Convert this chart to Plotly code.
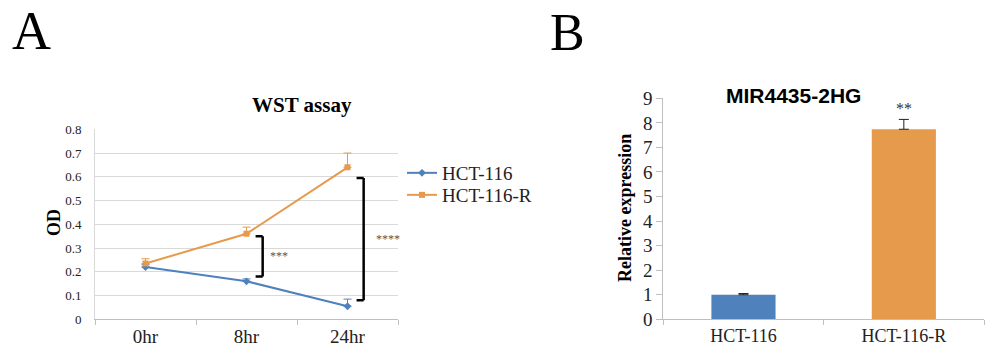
import plotly.graph_objects as go

# ---- Panel A data ----
time_points = ["0hr", "8hr", "24hr"]
hct116_od = [0.22, 0.16, 0.055]
hct116_err = [0.01, 0.01, 0.03]
hct116r_od = [0.235, 0.36, 0.64]
hct116r_err = [0.02, 0.028, 0.06]
sig_index = [1, 2]
sig_lo = [0.18, 0.08]
sig_hi = [0.35, 0.595]
sig_text = ["***", "****"]

# ---- Panel B data ----
cell_lines = ["HCT-116", "HCT-116-R"]
rel_expr = [1.0, 7.74]
rel_err = [0.05, 0.4]
rel_sig = ["", "**"]

BLUE = "#4f81bd"
ORANGE = "#e59a4c"
SERIF = "Liberation Serif, Times New Roman, serif"
SANS = "Liberation Sans, Arial, sans-serif"

fig = go.Figure()

fig.add_trace(go.Scatter(
    x=time_points, y=hct116_od, name="HCT-116", mode="lines+markers",
    line=dict(color=BLUE, width=2), marker=dict(symbol="diamond", size=6, color=BLUE),
    error_y=dict(type="data", array=hct116_err, arrayminus=[0]*3, symmetric=False,
                 color=BLUE, thickness=1, width=4),
    xaxis="x", yaxis="y", legend="legend"))
fig.add_trace(go.Scatter(
    x=time_points, y=hct116r_od, name="HCT-116-R", mode="lines+markers",
    line=dict(color=ORANGE, width=2), marker=dict(symbol="square", size=6, color=ORANGE),
    error_y=dict(type="data", array=hct116r_err, arrayminus=[0]*3, symmetric=False,
                 color=ORANGE, thickness=1, width=4),
    xaxis="x", yaxis="y", legend="legend2"))

fig.add_trace(go.Bar(
    x=cell_lines, y=rel_expr, marker=dict(color=[BLUE, ORANGE], line=dict(width=0)),
    width=0.4, showlegend=False,
    error_y=dict(type="data", array=rel_err, arrayminus=[0]*2, symmetric=False,
                 color="#222222", thickness=1, width=5),
    xaxis="x2", yaxis="y2"))

shapes = []
annotations = []
for idx, lo, hi, txt in zip(sig_index, sig_lo, sig_hi, sig_text):
    xr = idx + 0.16
    xl = idx + 0.09
    for (a0, b0, a1, b1) in [(xl, lo, xr, lo), (xr, lo, xr, hi), (xl, hi, xr, hi)]:
        shapes.append(dict(type="line", xref="x", yref="y", x0=a0, y0=b0, x1=a1, y1=b1,
                           line=dict(color="black", width=2.5)))
    annotations.append(dict(x=idx + (0.32 if len(txt) == 3 else 0.4), y=(lo + hi) / 2,
                            xref="x", yref="y", text=txt, showarrow=False,
                            xanchor="center", yanchor="middle",
                            font=dict(family=SERIF, size=12, color="#555555")))

for name, val, err, txt in zip(cell_lines, rel_expr, rel_err, rel_sig):
    if txt:
        annotations.append(dict(x=name, y=val + err, xref="x2", yref="y2", text=txt,
                                showarrow=False, xanchor="center", yanchor="bottom", yshift=0,
                                font=dict(family=SERIF, size=16, color="#333333")))


def paper_text(px, py, text, family, size, angle=0):
    return dict(x=px / 993, y=1 - py / 352, xref="paper", yref="paper", text=text,
                textangle=angle, showarrow=False, xanchor="center", yanchor="middle",
                font=dict(family=family, size=size, color="black"))


annotations += [
    paper_text(302, 105, "<b>WST assay</b>", SERIF, 21),
    paper_text(793, 95, "<b>MIR4435-2HG</b>", SANS, 21),
    paper_text(54, 223, "<b>OD</b>", SERIF, 18, -90),
    paper_text(625, 208, "<b>Relative expression</b>", SERIF, 18, -90),
    paper_text(31, 31, "A", SERIF, 54),
    paper_text(567, 32, "B", SERIF, 52),
]

legend_common = dict(xanchor="left", yanchor="middle",
                     font=dict(family=SERIF, size=19, color="#222222"),
                     bgcolor="rgba(0,0,0,0)")

fig.update_layout(
    width=993, height=352, margin=dict(l=0, r=0, t=0, b=0, autoexpand=False),
    paper_bgcolor="white", plot_bgcolor="white",
    shapes=shapes, annotations=annotations,
    legend=dict(x=402 / 993, y=1 - 173 / 352, **legend_common),
    legend2=dict(x=402 / 993, y=1 - 195 / 352, **legend_common),
    xaxis=dict(domain=[95 / 993, 398 / 993], type="category", range=[-0.5, 2.5],
               autorange=False, tickson="boundaries",
               ticks="outside", ticklen=5, tickcolor="#bfbfbf", showline=True,
               linecolor="#bfbfbf", showgrid=False,
               tickfont=dict(family=SERIF, size=19, color="#222222")),
    yaxis=dict(domain=[1 - 319.3 / 352, 1 - 129.3 / 352], range=[0, 0.8], dtick=0.1,
               autorange=False,
               showgrid=True, gridcolor="#d9d9d9", zeroline=False, showline=True,
               linecolor="#d9d9d9", ticks="", ticklabelstandoff=10,
               tickfont=dict(family=SERIF, size=13, color="#222222")),
    xaxis2=dict(domain=[663.3 / 993, 984 / 993], type="category", range=[-0.5, 1.5],
                autorange=False, tickson="boundaries",
                ticks="outside", ticklen=5, tickcolor="#bfbfbf", showline=True,
                linecolor="#bfbfbf", showgrid=False, anchor="y2",
                tickfont=dict(family=SERIF, size=18, color="#222222")),
    yaxis2=dict(domain=[1 - 319.3 / 352, 1 - 98.3 / 352], range=[0, 9], dtick=1,
                autorange=False,
                showgrid=False, zeroline=False, showline=True, linecolor="#bfbfbf",
                ticks="outside", ticklen=6, tickcolor="#bfbfbf", anchor="x2",
                tickfont=dict(family=SERIF, size=19, color="#222222")),
)

fig.write_html("out.html", config={"displayModeBar": False},
               post_script="document.body.style.margin='0px';")
